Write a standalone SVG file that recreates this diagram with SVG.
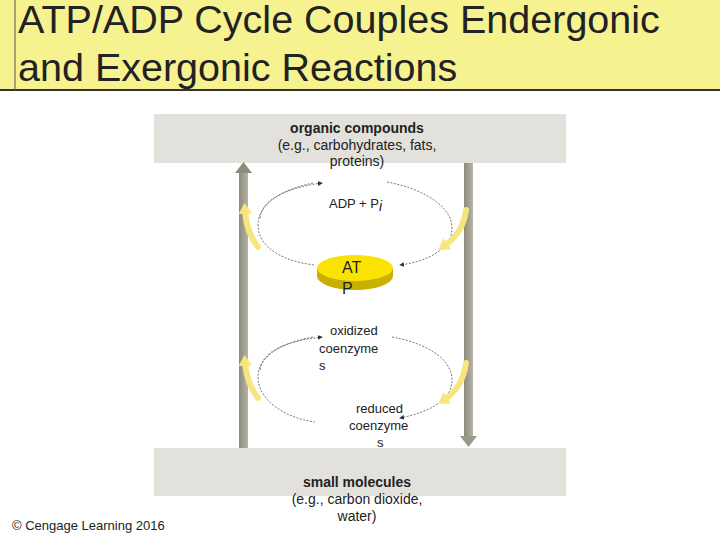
<svg xmlns="http://www.w3.org/2000/svg" width="720" height="540" viewBox="0 0 720 540">
<style>
.t{font-family:"Liberation Sans",Arial,sans-serif;fill:#222}
.cyc{fill:none;stroke:#555;stroke-width:0.8;stroke-dasharray:2 1.5}
.yl{fill:none;stroke:#f7e680;stroke-width:6;stroke-linecap:round}
</style>
<defs>
<linearGradient id="gb" x1="0" x2="1"><stop offset="0" stop-color="#8d8c7c"/><stop offset="1" stop-color="#b4b3a6"/></linearGradient>
<marker id="ah" markerWidth="6" markerHeight="6" refX="5" refY="3" orient="auto"><path d="M0,0 L6,3 L0,6z" fill="#333"/></marker>
<marker id="ya" markerUnits="userSpaceOnUse" markerWidth="12" markerHeight="14" refX="4" refY="7" orient="auto"><path d="M0,0 L11,7 L0,14z" fill="#f7e680"/></marker>
</defs>
<rect x="0" y="0" width="720" height="90" fill="#f5f28f"/>
<line x1="0" y1="90" x2="720" y2="90" stroke="#333" stroke-width="2"/>
<line x1="15" y1="0" x2="15" y2="90" stroke="#555" stroke-width="1"/>
<text class="t" x="18" y="33" font-size="39.5" fill="#000">ATP/ADP Cycle Couples Endergonic</text>
<text class="t" x="18" y="81" font-size="39.5" fill="#000">and Exergonic Reactions</text>
<g id="top-box"><rect x="154" y="114" width="412" height="49" fill="#e2e1dc"/>
<text class="t" x="357" y="133" font-size="14" font-weight="bold" text-anchor="middle">organic compounds</text>
<text class="t" x="357" y="150" font-size="14" text-anchor="middle">(e.g., carbohydrates, fats,</text>
<text class="t" x="357" y="166" font-size="14" text-anchor="middle">proteins)</text></g>
<g id="bottom-box"><rect x="154" y="448" width="412" height="48" fill="#e2e1dc"/>
<text class="t" x="357" y="487" font-size="14" font-weight="bold" text-anchor="middle">small molecules</text>
<text class="t" x="357" y="504" font-size="14" text-anchor="middle">(e.g., carbon dioxide,</text>
<text class="t" x="357" y="521" font-size="14" text-anchor="middle">water)</text></g>
<g id="connectors">
<rect x="239" y="172" width="9" height="276" fill="url(#gb)"/>
<path d="M235,173 L243.5,162 L252,173z" fill="#8d8c7c"/>
<rect x="464" y="163" width="9" height="274" fill="url(#gb)"/>
<path d="M460,436 L468.5,447 L477,436z" fill="#9a998c"/>
<path class="cyc" d="M313,183 C280,190 258,205 258,225 C258,248 285,262 315,265"/>
<path class="cyc" d="M387,182 C420,188 452,205 452,228 C452,250 425,262 400,265" marker-end="url(#ah)"/>
<path class="cyc" d="M260,218 C262,200 285,188 322,183" marker-end="url(#ah)"/>
<path class="cyc" d="M313,337 C280,343 258,357 258,377 C258,400 285,418 315,422"/>
<path class="cyc" d="M392,337 C425,343 452,358 452,380 C452,400 430,412 400,418" marker-end="url(#ah)"/>
<path class="cyc" d="M260,370 C262,352 285,341 322,337" marker-end="url(#ah)"/>
<path class="yl" d="M258,247 C250,237 246,225 245,210" marker-end="url(#ya)"/>
<path class="yl" d="M466,210 C464,226 456,238 444,246" marker-end="url(#ya)"/>
<path class="yl" d="M258,398 C250,388 246,376 245,362" marker-end="url(#ya)"/>
<path class="yl" d="M466,363 C464,379 456,392 444,400" marker-end="url(#ya)"/>
</g>
<g id="adp"><text class="t" x="329" y="208" font-size="13">ADP + P<tspan font-style="italic" font-size="14" dy="3">i</tspan></text></g>
<g id="atp">
<ellipse cx="355" cy="276" rx="38" ry="14" fill="#c9b000"/>
<rect x="317" y="268" width="76" height="8" fill="#c9b000"/>
<ellipse cx="355" cy="268" rx="38" ry="13" fill="#f8e400"/>
<text class="t" x="342" y="273" font-size="16" fill="#333">AT</text>
<text class="t" x="342" y="294" font-size="16" fill="#333">P</text></g>
<g id="oxidized"><text class="t" font-size="13"><tspan x="330" y="335">oxidized</tspan><tspan x="319" y="353">coenzyme</tspan><tspan x="319" y="370">s</tspan></text></g>
<g id="reduced"><text class="t" font-size="13"><tspan x="356" y="413">reduced</tspan><tspan x="349" y="430">coenzyme</tspan><tspan x="377" y="447">s</tspan></text></g>
<text class="t" x="12" y="530" font-size="13">© Cengage Learning 2016</text>
</svg>
